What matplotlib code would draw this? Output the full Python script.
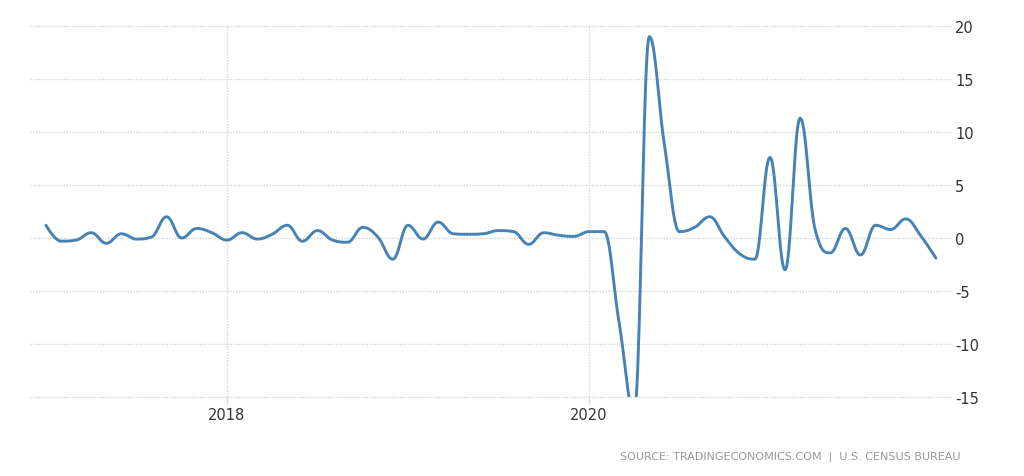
import numpy as np
import matplotlib
matplotlib.use("Agg")
import matplotlib.pyplot as plt

# ==================================
# Data: monthly change (%), Jan 2017 - Dec 2021
# ==================================
years = [2017, 2018, 2019, 2020, 2021]

values_2017 = [1.2, -0.3, -0.2, 0.5, -0.5, 0.4, -0.1, 0.1, 2.0, 0.0, 0.9, 0.5]
values_2018 = [-0.2, 0.5, -0.1, 0.35, 1.2, -0.3, 0.7, -0.2, -0.4, 1.0, 0.1, -2.0]
values_2019 = [1.2, -0.1, 1.5, 0.4, 0.35, 0.4, 0.7, 0.6, -0.6, 0.5, 0.25, 0.15]
values_2020 = [0.6, 0.6, -8.0, -16.4, 19.0, 8.8, 0.6, 1.0, 2.0, 0.1, -1.5, -2.0]
values_2021 = [7.6, -3.0, 11.3, 0.75, -1.4, 0.9, -1.6, 1.2, 0.8, 1.8, 0.2, -1.9]

values = np.array(values_2017 + values_2018 + values_2019 + values_2020 + values_2021)
x_years = np.array([y + m / 12 for y in years for m in range(12)])

x_ticks = [2018, 2020]
x_tick_labels = ["2018", "2020"]
y_ticks = [-15, -10, -5, 0, 5, 10, 15, 20]

source_text = "SOURCE: TRADINGECONOMICS.COM  |  U.S. CENSUS BUREAU"


# ==================================
# Spline smoothing (same idea as Highcharts' spline series)
# ==================================
def spline_path(x, y, smoothing=1.5, steps=24):
    n = len(x)
    lcx, lcy = x.astype(float).copy(), y.astype(float).copy()
    rcx, rcy = x.astype(float).copy(), y.astype(float).copy()
    denom = smoothing + 1
    for i in range(1, n - 1):
        px, py = x[i], y[i]
        lx, ly = x[i - 1], y[i - 1]
        nx, ny = x[i + 1], y[i + 1]
        l_x = (smoothing * px + lx) / denom
        l_y = (smoothing * py + ly) / denom
        r_x = (smoothing * px + nx) / denom
        r_y = (smoothing * py + ny) / denom
        corr = (r_y - l_y) * (r_x - px) / (r_x - l_x) + py - r_y
        l_y += corr
        r_y += corr
        if l_y > ly and l_y > py:
            l_y = max(ly, py)
            r_y = 2 * py - l_y
        elif l_y < ly and l_y < py:
            l_y = min(ly, py)
            r_y = 2 * py - l_y
        if r_y > ny and r_y > py:
            r_y = max(ny, py)
            l_y = 2 * py - r_y
        elif r_y < ny and r_y < py:
            r_y = min(ny, py)
            l_y = 2 * py - r_y
        lcx[i], lcy[i], rcx[i], rcy[i] = l_x, l_y, r_x, r_y

    t = np.linspace(0, 1, steps)[:, None]
    xs, ys = [], []
    for i in range(n - 1):
        p = np.array([[x[i], y[i]], [rcx[i], rcy[i]],
                      [lcx[i + 1], lcy[i + 1]], [x[i + 1], y[i + 1]]])
        b = ((1 - t) ** 3) * p[0] + 3 * ((1 - t) ** 2) * t * p[1] \
            + 3 * (1 - t) * t ** 2 * p[2] + t ** 3 * p[3]
        xs.append(b[:-1, 0])
        ys.append(b[:-1, 1])
    xs.append([x[-1]])
    ys.append([y[-1]])
    return np.concatenate(xs), np.concatenate(ys)


# work in month units so the smoothing is uniform
months = np.arange(len(values), dtype=float)
sx, sy = spline_path(months, values)
sx = x_years[0] + sx / 12

# ==================================
# Plot
# ==================================
fig = plt.figure(figsize=(10.24, 4.77), dpi=100)
ax = fig.add_axes([30 / 1024, 1 - 398 / 477, 921 / 1024, 371 / 477])

ax.plot(sx, sy, color="#4682b4", linewidth=2.1, solid_capstyle="round",
        solid_joinstyle="round", zorder=3)

ax.set_xlim(2016.912, 2022.0)
ax.set_ylim(-15, 20)

ax.set_yticks(y_ticks)
ax.set_yticklabels([str(v) for v in y_ticks])
ax.yaxis.tick_right()
ax.tick_params(axis="y", length=0, pad=3, labelsize=10.5, labelcolor="#333333")
for lab in ax.get_yticklabels():
    lab.set_horizontalalignment("left")

ax.set_xticks(x_ticks)
ax.set_xticklabels(x_tick_labels)
ax.tick_params(axis="x", length=5, width=1, color="#dddddd", pad=2,
               labelsize=10.5, labelcolor="#333333")

ax.grid(True, color="#d6d6d6", linestyle=(0, (1, 1)), linewidth=1.0)
ax.set_axisbelow(True)
for gl in ax.get_xgridlines() + ax.get_ygridlines():
    gl.set_clip_on(False)

for spine in ax.spines.values():
    spine.set_visible(False)

fig.text(960 / 1024, 1 - 457 / 477, source_text, ha="right", va="center",
         fontsize=8, color="#999999")

fig.savefig("out.png", dpi=100)
plt.close(fig)
